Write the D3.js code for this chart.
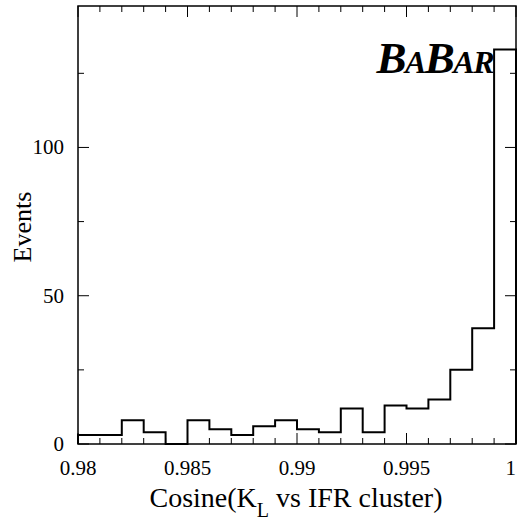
<!DOCTYPE html>
<html>
<head>
<meta charset="utf-8">
<script src="https://cdn.jsdelivr.net/npm/d3@7"></script>
<style>
  html, body { margin: 0; padding: 0; background: #fff; }
  svg { display: block; }
  text { font-family: "Liberation Serif", "Times New Roman", "DejaVu Serif", serif; fill: #000; }
</style>
</head>
<body>
<svg id="chart" width="517" height="523"></svg>
<script>
// Histogram of the cosine between the K_L direction and the IFR cluster
const binEdgesStart = 0.98;
const binWidth = 0.001;
const counts = [3, 3, 8, 4, 0, 8, 5, 3, 6, 8, 5, 4, 12, 4, 13, 12, 15, 25, 39, 133];
const xTickValues = [0.98, 0.985, 0.99, 0.995, 1];
const xTickLabels = ["0.98", "0.985", "0.99", "0.995", "1"];
const yTickValues = [0, 50, 100];
const yTickLabels = ["0", "50", "100"];

const svg = d3.select("#chart");
const m = { left: 78, right: 1, top: 6, bottom: 79 };
const W = 517, H = 523;
const iw = W - m.left - m.right, ih = H - m.top - m.bottom;

const x = d3.scaleLinear().domain([0.98, 1.0]).range([m.left, m.left + iw]);
const y = d3.scaleLinear().domain([0, 147.7]).range([m.top + ih, m.top]);

const g = svg.append("g");

// Tick marks on all four sides, pointing inward
const xMinor = d3.range(0, 21).map(i => 0.98 + i * 0.001);
const yMinor = [25, 75, 125];
const majorLen = 11, minorLen = 6;
const tickG = g.append("g").attr("stroke", "#000").attr("stroke-width", 1);
xMinor.forEach((v, i) => {
  const len = i % 5 === 0 ? majorLen : minorLen;
  const px = x(v);
  tickG.append("line").attr("x1", px).attr("x2", px).attr("y1", y(0)).attr("y2", y(0) - len);
  tickG.append("line").attr("x1", px).attr("x2", px).attr("y1", m.top).attr("y2", m.top + len);
});
yTickValues.concat(yMinor).forEach(v => {
  const len = yTickValues.includes(v) ? majorLen : minorLen;
  const py = y(v);
  tickG.append("line").attr("x1", m.left).attr("x2", m.left + len).attr("y1", py).attr("y2", py);
  tickG.append("line").attr("x1", m.left + iw).attr("x2", m.left + iw - len).attr("y1", py).attr("y2", py);
});

// Histogram outline as a step path
const pts = [[x(binEdgesStart), y(0)]];
counts.forEach((c, i) => {
  const x0 = x(binEdgesStart + i * binWidth), x1 = x(binEdgesStart + (i + 1) * binWidth);
  pts.push([x0, y(c)], [x1, y(c)]);
});
pts.push([x(binEdgesStart + counts.length * binWidth), y(0)]);
g.append("path")
  .attr("d", d3.line()(pts))
  .attr("fill", "none")
  .attr("stroke", "#000")
  .attr("stroke-width", 2);

// Frame
g.append("rect")
  .attr("x", m.left).attr("y", m.top)
  .attr("width", iw).attr("height", ih)
  .attr("fill", "none").attr("stroke", "#000").attr("stroke-width", 1.5);

// Tick labels (the last one sits against the right edge)
xTickValues.forEach((v, i) => {
  const last = i === xTickValues.length - 1;
  g.append("text").attr("x", last ? W - 1 : x(v)).attr("y", 475)
    .attr("text-anchor", last ? "end" : "middle").attr("font-size", 21).text(xTickLabels[i]);
});
yTickValues.forEach((v, i) => {
  g.append("text").attr("x", 64).attr("y", y(v) + 7)
    .attr("text-anchor", "end").attr("font-size", 21).text(yTickLabels[i]);
});

// Axis titles
const xt = g.append("text").attr("x", 296).attr("y", 507)
  .attr("text-anchor", "middle").attr("font-size", 28);
xt.append("tspan").text("Cosine(K");
xt.append("tspan").attr("font-size", 20).attr("dy", 10).text("L");
xt.append("tspan").attr("dy", -10).text(" vs IFR cluster)");

g.append("text")
  .attr("transform", "translate(31,227) rotate(-90)")
  .attr("text-anchor", "middle").attr("font-size", 26).text("Events");

// Experiment logo
const logo = g.append("text").attr("x", 493).attr("y", 73)
  .attr("text-anchor", "end").attr("font-weight", "bold").attr("font-style", "italic")
  .attr("font-size", 45).attr("letter-spacing", -1.5);
logo.append("tspan").text("B");
logo.append("tspan").attr("font-size", 32).text("A");
logo.append("tspan").text("B");
logo.append("tspan").attr("font-size", 32).text("AR");
</script>
</body>
</html>
